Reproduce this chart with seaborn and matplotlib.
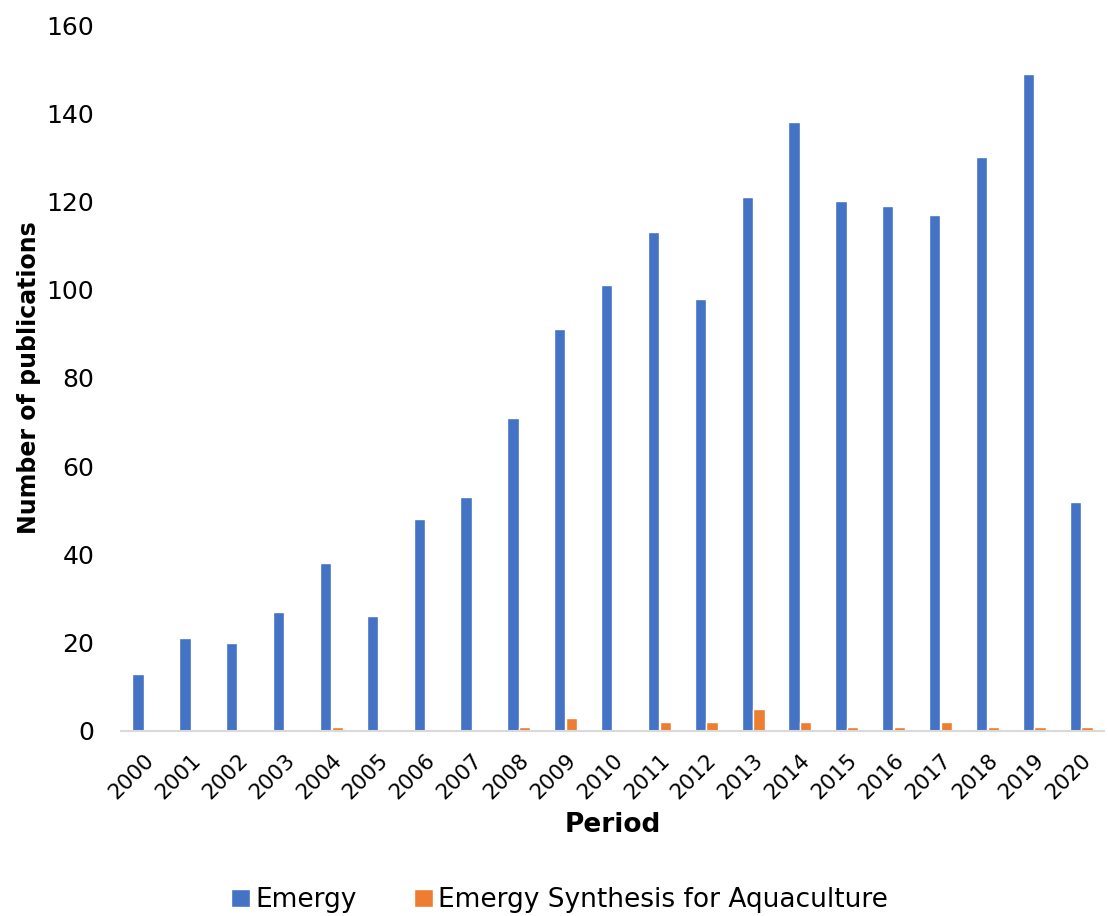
import matplotlib
matplotlib.use("Agg")
import matplotlib.pyplot as plt
import seaborn as sns
import pandas as pd
from matplotlib.patches import Patch

years = [str(y) for y in range(2000, 2021)]
emergy = [13, 21, 20, 27, 38, 26, 48, 53, 71, 91, 101, 113, 98, 121, 138, 120, 119, 117, 130, 149, 52]
aquaculture = [0, 0, 0, 0, 1, 0, 0, 0, 1, 3, 0, 2, 2, 5, 2, 1, 1, 2, 1, 1, 1]
series_names = ["Emergy", "Emergy Synthesis for Aquaculture"]
colors = ["#4472C4", "#ED7D31"]

df = pd.DataFrame({
    "Period": years * 2,
    "Count": emergy + aquaculture,
    "Series": [series_names[0]] * len(years) + [series_names[1]] * len(years),
})

sns.set_theme(style="white")
plt.rcParams["font.family"] = "sans-serif"
plt.rcParams["font.sans-serif"] = ["DejaVu Sans"]

fig = plt.figure(figsize=(11.08, 9.16), dpi=100)
ax = fig.add_axes([0.1088, 0.2020, 0.888, 0.7707])

sns.barplot(data=df, x="Period", y="Count", hue="Series", palette=colors,
            width=0.5, gap=0.04, ax=ax, legend=False, saturation=1)

ax.set_ylim(0, 160)
ax.set_yticks(range(0, 161, 20))
ax.set_xlim(-0.5, len(years) - 0.5)
ax.tick_params(axis="y", labelsize=18, length=0, pad=19, labelcolor="black")
ax.tick_params(axis="x", labelsize=15.5, length=0, pad=14, labelcolor="black")
plt.setp(ax.get_xticklabels(), rotation=45, ha="right", rotation_mode="anchor")

for side in ["top", "right", "left"]:
    ax.spines[side].set_visible(False)
ax.spines["bottom"].set_color("#D9D9D9")
ax.spines["bottom"].set_linewidth(1.5)

ax.set_xlabel("Period", fontsize=19, fontweight="bold", labelpad=6, color="black")
ax.set_ylabel("Number of publications", fontsize=17, fontweight="bold", labelpad=4, color="black")

handles = [Patch(facecolor=c, label=n) for c, n in zip(colors, series_names)]
leg = fig.legend(handles=handles, loc="center", bbox_to_anchor=(0.505, 0.017),
                 ncol=2, frameon=False, fontsize=19, handlelength=0.7, handleheight=0.7,
                 handletextpad=0.2, columnspacing=2.2)
for t in leg.get_texts():
    t.set_color("black")

fig.savefig("out.png", dpi=100)
